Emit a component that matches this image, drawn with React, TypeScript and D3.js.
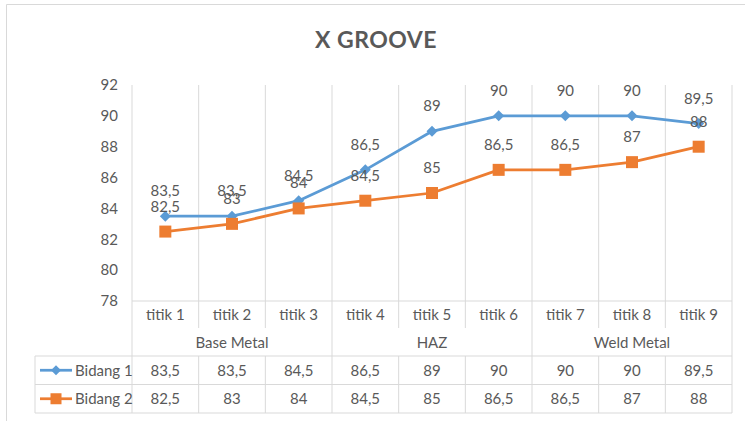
import React from "react";
import * as d3 from "d3";

const categories = ["titik 1", "titik 2", "titik 3", "titik 4", "titik 5", "titik 6", "titik 7", "titik 8", "titik 9"];
const groups = [
  { name: "Base Metal", start: 0, end: 3 },
  { name: "HAZ", start: 3, end: 6 },
  { name: "Weld Metal", start: 6, end: 9 },
];
const bidang1 = [83.5, 83.5, 84.5, 86.5, 89, 90, 90, 90, 89.5];
const bidang2 = [82.5, 83, 84, 84.5, 85, 86.5, 86.5, 87, 88];
const yTicks = [78, 80, 82, 84, 86, 88, 90, 92];
const seriesNames = ["Bidang 1", "Bidang 2"];
const title = "X GROOVE";

const W = 745, H = 421;
const FONT = "Lato, 'Liberation Sans', sans-serif";
const TXT = "#595959";
const GRID = "#D9D9D9";
const BLUE = "#5B9BD5";
const ORANGE = "#ED7D31";

const fmt = (v: number) => String(v).replace(".", ",");

export default function App() {
  const left = 132, right = 732, top = 85, bottom = 301;
  const x = d3.scaleBand<string>().domain(categories).range([left, right]).padding(0);
  const bw = x.bandwidth();
  const cx = (c: string) => (x(c) as number) + bw / 2;
  const y = d3.scaleLinear().domain([78, 92]).range([bottom, top]);
  const line = d3.line<number>().x((_, i) => cx(categories[i])).y((d) => y(d));

  const boundaries = d3.range(categories.length + 1).map((i) => left + i * bw);
  const groupEdges = new Set<number>();
  groupEdges.add(0);
  groups.forEach((g) => groupEdges.add(g.end));

  const tableTop = 356, rowH = 28.5;
  const tableLeft = 35;
  const series = [
    { name: seriesNames[0], data: bidang1, color: BLUE, marker: "diamond" },
    { name: seriesNames[1], data: bidang2, color: ORANGE, marker: "square" },
  ];

  const marker = (type: string, px: number, py: number, color: string, s: number, key: string) =>
    type === "diamond" ? (
      <path key={key} d={`M${px},${py - s}L${px + s},${py}L${px},${py + s}L${px - s},${py}Z`} fill={color} />
    ) : (
      <rect key={key} x={px - s} y={py - s} width={2 * s} height={2 * s} fill={color} />
    );

  const fs = 15;

  return (
    <svg width={W} height={H} style={{ position: "absolute", left: 0, top: 0 }} fontFamily={FONT}>
      <rect x={0} y={0} width={W} height={H} fill="#fff" />
      {/* chart border */}
      <line x1={6.5} y1={4.5} x2={W} y2={4.5} stroke={GRID} strokeWidth={1} />
      <line x1={6.5} y1={4.5} x2={6.5} y2={H} stroke={GRID} strokeWidth={1} />

      <text x={376} y={48} textAnchor="middle" fontSize={23} fontWeight="bold" fill={TXT} letterSpacing={0.5}>
        {title}
      </text>

      {/* vertical gridlines */}
      {boundaries.map((bx, i) => (
        <line key={"g" + i} x1={bx} x2={bx} y1={top} y2={bottom} stroke={GRID} strokeWidth={1} />
      ))}
      {/* axis line */}
      <line x1={left} x2={right} y1={bottom} y2={bottom} stroke={GRID} strokeWidth={1} />
      {/* ticks below axis */}
      {boundaries.map((bx, i) => (
        <line key={"t" + i} x1={bx} x2={bx} y1={bottom} y2={groupEdges.has(i) ? tableTop : 328} stroke={GRID} strokeWidth={1} />
      ))}

      {/* y tick labels */}
      {yTicks.map((t) => (
        <text key={"y" + t} x={118} y={y(t)} dy="0.35em" textAnchor="end" fontSize={fs} fill={TXT}>
          {t}
        </text>
      ))}

      {/* category labels */}
      {categories.map((c) => (
        <text key={"c" + c} x={cx(c)} y={320} textAnchor="middle" fontSize={fs} fill={TXT}>
          {c}
        </text>
      ))}
      {groups.map((g) => (
        <text key={"gr" + g.name} x={left + ((g.start + g.end) / 2) * bw} y={348} textAnchor="middle" fontSize={fs} fill={TXT}>
          {g.name}
        </text>
      ))}

      {/* series lines */}
      {series.map((s) => (
        <path key={"l" + s.name} d={line(s.data) || ""} fill="none" stroke={s.color} strokeWidth={2.75} strokeLinejoin="round" />
      ))}
      {series.map((s) =>
        s.data.map((v, i) => marker(s.marker, cx(categories[i]), y(v), s.color, s.marker === "diamond" ? 5.5 : 6, s.name + i))
      )}
      {/* data labels */}
      {series.map((s) =>
        s.data.map((v, i) => (
          <text key={"dl" + s.name + i} x={cx(categories[i])} y={y(v) - 20} textAnchor="middle" fontSize={fs} fill={TXT}>
            {fmt(v)}
          </text>
        ))
      )}

      {/* data table */}
      {[0, 1, 2].map((r) => (
        <line key={"h" + r} x1={tableLeft} x2={right} y1={tableTop + r * rowH} y2={tableTop + r * rowH} stroke={GRID} strokeWidth={1} />
      ))}
      <line x1={tableLeft} x2={tableLeft} y1={tableTop} y2={tableTop + 2 * rowH} stroke={GRID} strokeWidth={1} />
      {boundaries.map((bx, i) => (
        <line key={"tv" + i} x1={bx} x2={bx} y1={tableTop} y2={tableTop + 2 * rowH} stroke={GRID} strokeWidth={1} />
      ))}
      {series.map((s, r) => {
        const ry = tableTop + r * rowH + rowH / 2;
        return (
          <g key={"row" + s.name}>
            <line x1={40} x2={72} y1={ry} y2={ry} stroke={s.color} strokeWidth={2.75} />
            {marker(s.marker, 56, ry, s.color, s.marker === "diamond" ? 5 : 5.5, "lm" + s.name)}
            <text x={75} y={ry} dy="0.35em" fontSize={fs} fill={TXT}>
              {s.name}
            </text>
            {s.data.map((v, i) => (
              <text key={"tc" + i} x={cx(categories[i])} y={ry} dy="0.35em" textAnchor="middle" fontSize={fs} fill={TXT}>
                {fmt(v)}
              </text>
            ))}
          </g>
        );
      })}
    </svg>
  );
}
